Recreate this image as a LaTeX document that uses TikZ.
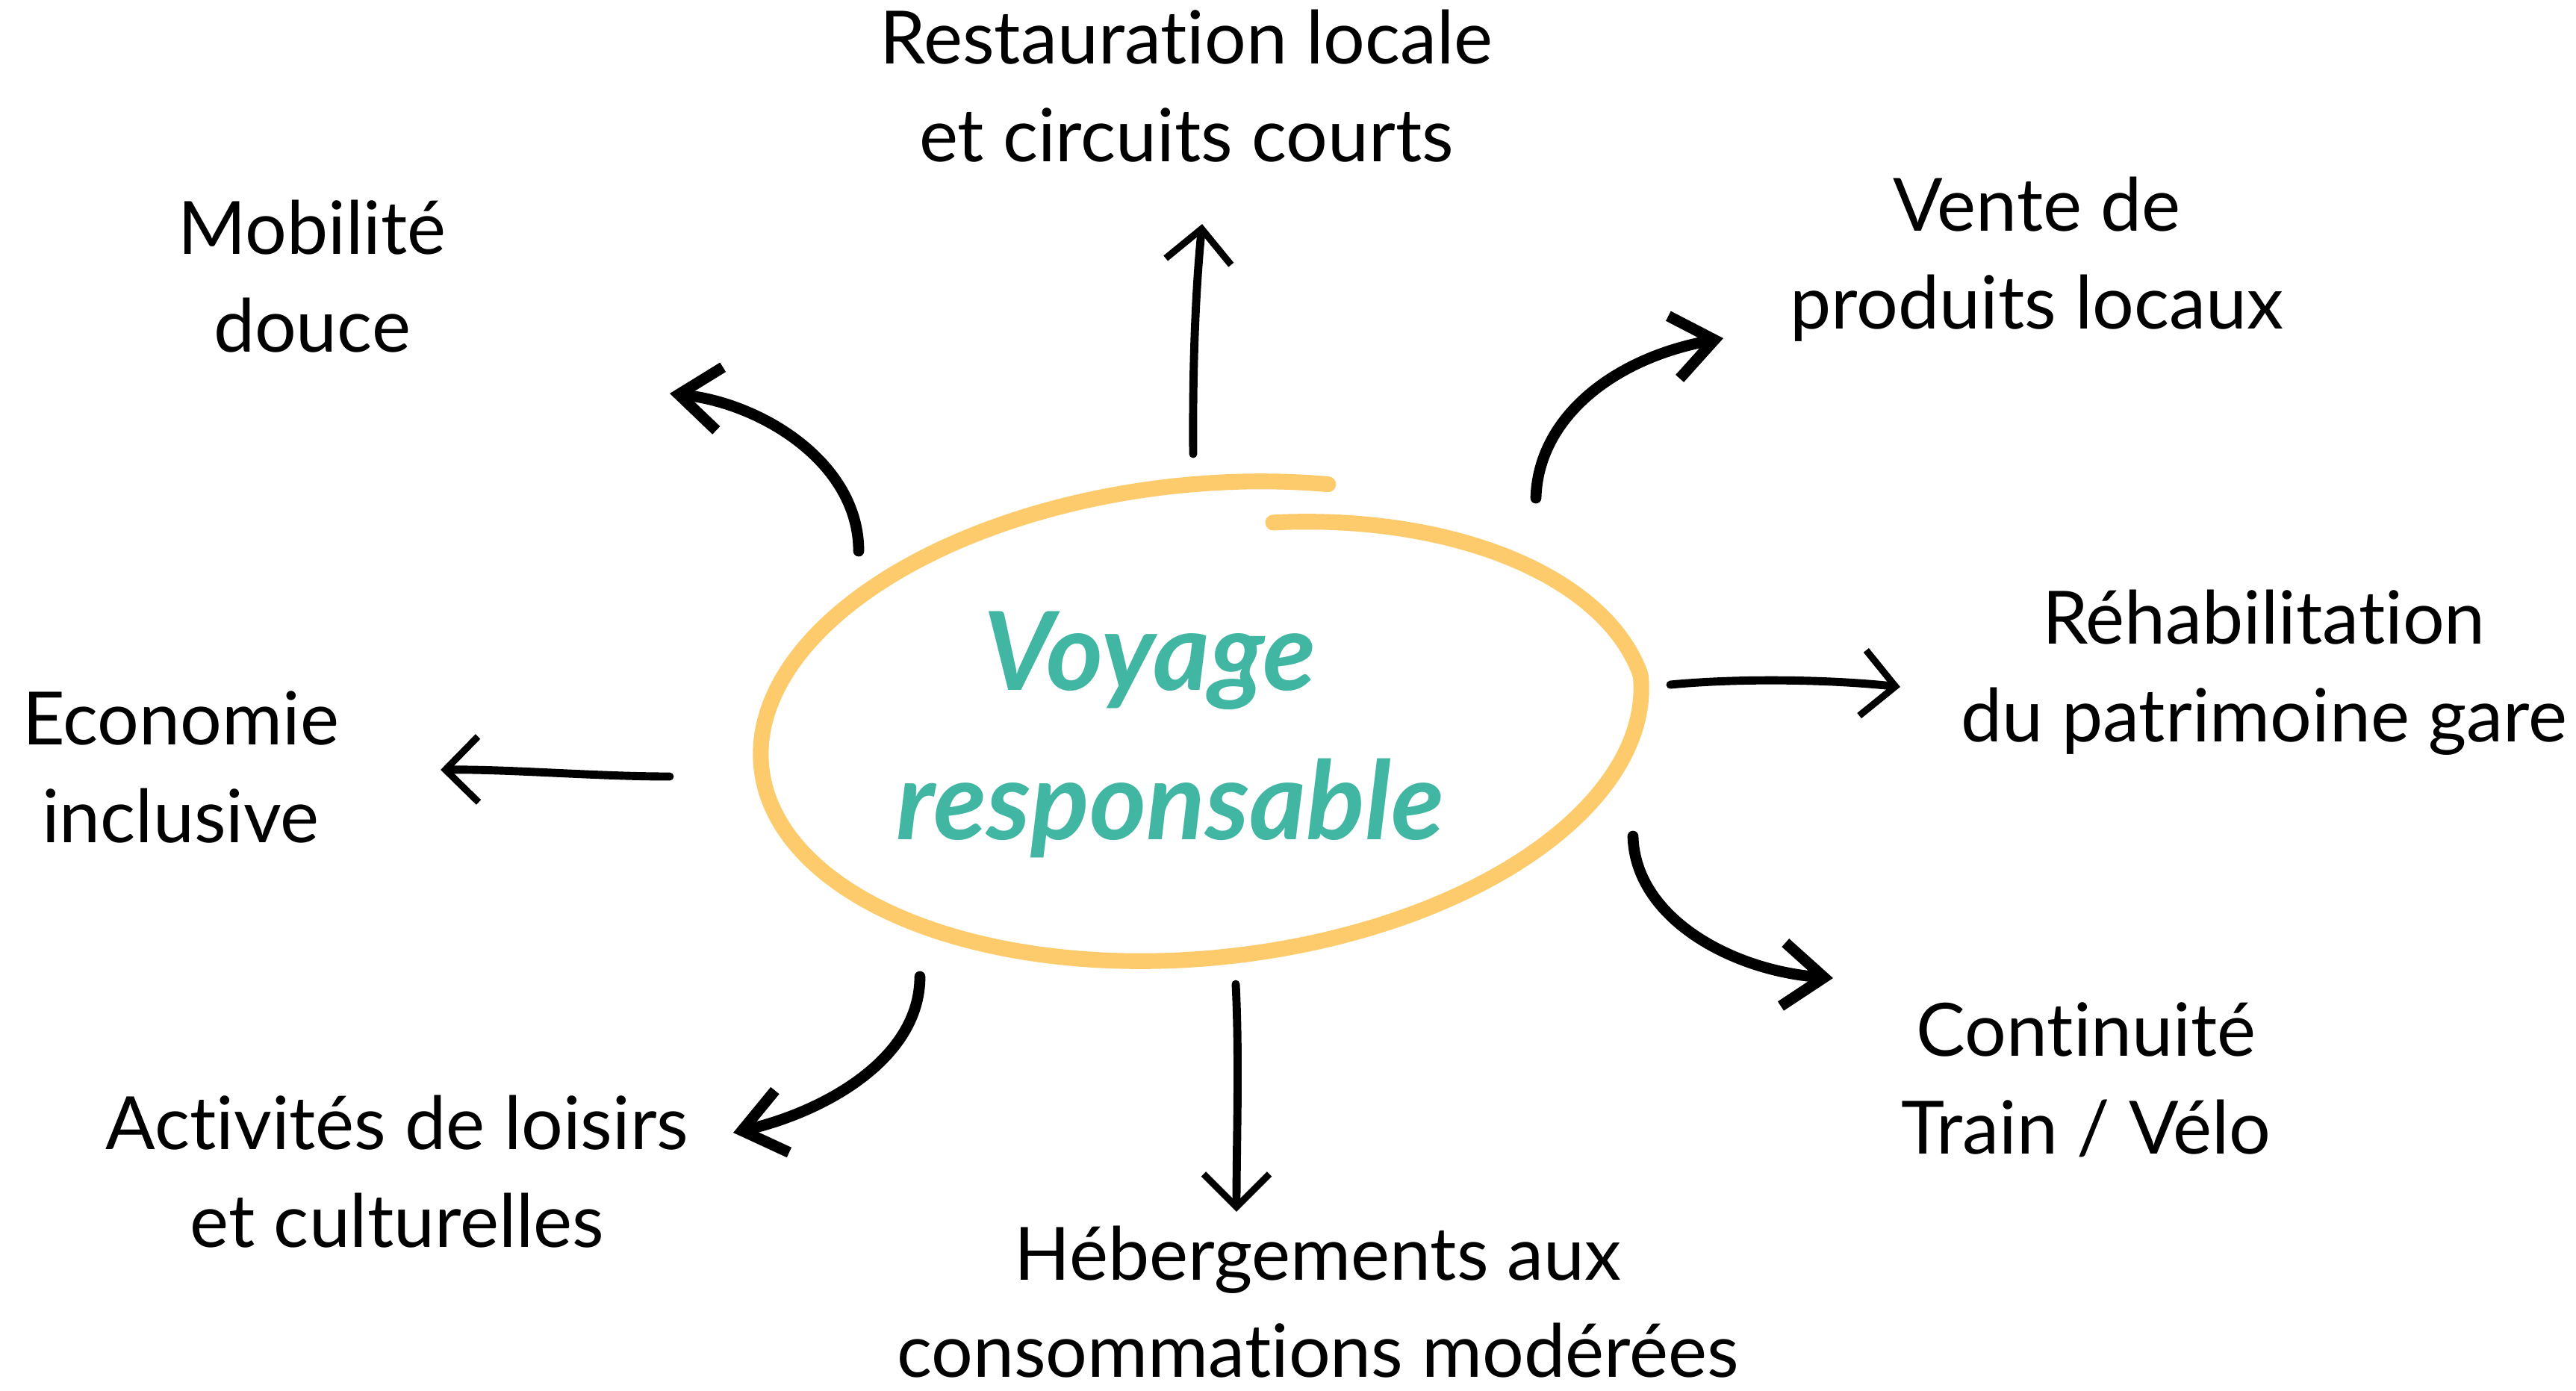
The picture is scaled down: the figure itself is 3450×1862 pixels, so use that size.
\documentclass[tikz,border=0pt]{standalone}
\usepackage{fontspec}
\setmainfont{Lato}[Ligatures={NoCommon}]
\usetikzlibrary{arrows.meta}
\definecolor{ringyellow}{HTML}{FDCB6B}
\definecolor{tealtext}{HTML}{40B6A3}
\tikzset{
  lbl/.style={font=\fontsize{28}{37}\selectfont, align=center, text=black, inner sep=0pt, anchor=center},
  ctrtext/.style={font=\fontsize{41.5}{41.5}\selectfont\bfseries\itshape, text=tealtext, inner sep=0pt, anchor=base},
  ring/.style={draw=ringyellow, line width=6pt, line cap=round, line join=round},
  bigarr/.style={draw=black, line width=4.2pt, line cap=round, -{Straight Barb[length=5.5mm, width=8.5mm, line width=4.2pt]}},
  thinarr/.style={draw=black, line width=3.1pt, line cap=round, -{Straight Barb[length=4.4mm, width=8.8mm, line width=2.6pt]}},
}
\begin{document}
\begin{tikzpicture}[x=0.01cm, y=-0.01cm]
\useasboundingbox (0,0) rectangle (3450,1862);
\fill[white] (0,0) rectangle (3450,1862);

% central ring (open spiral ellipse)
\draw[ring] plot[domain=70:435.4, samples=300, smooth, variable=\t]
  ({1608.5 + (1-0.17*max(0,\t-360)/75.4)*(588.76*cos(\t) - 33.14*sin(\t))},
   {966 - (1-0.17*max(0,\t-360)/75.4)*(61.88*cos(\t) + 315.26*sin(\t))});

% central text
\node[ctrtext] (voy) at (1540,924) {Voyage};
\node[ctrtext] (resp) at (1567,1124) {responsable};

% labels
\node[lbl] (rest) at (1589,125) {\strut Restauration locale\\\strut et circuits courts};
\node[lbl] (mob) at (418,380) {\strut Mobilité\\\strut douce};
\node[lbl] (vente) at (2728,349) {\strut Vente de\\\strut produits locaux};
\node[lbl] (rehab) at (3032,902) {\strut Réhabilitation\\\strut du patrimoine gare};
\node[lbl] (eco) at (242,1037) {\strut Economie\\\strut inclusive};
\node[lbl] (cont) at (2794,1454) {\strut Continuité\\\strut Train / Vélo};
\node[lbl] (act) at (532,1579) {\strut Activités de loisirs\\\strut et culturelles};
\node[lbl] (heb) at (1765,1734) {\strut Hébergements aux\\consommations modérées};

% arrow end points
\coordinate (sMob) at (1150,738);  \coordinate (tMob) at (897,527);
\coordinate (sRest) at (1598,608); \coordinate (tRest) at (1610,300);
\coordinate (sVen) at (2057,667);  \coordinate (tVen) at (2308,453);
\coordinate (sReh) at (2237,917);  \coordinate (tReh) at (2545,920);
\coordinate (sEco) at (897,1040);  \coordinate (tEco) at (590,1031);
\coordinate (sCon) at (2187,1120); \coordinate (tCon) at (2455,1310);
\coordinate (sAct) at (1232,1308); \coordinate (tAct) at (982,1517);
\coordinate (sHeb) at (1655,1318); \coordinate (tHeb) at (1656,1623);

% curved arrows
\draw[bigarr] (sMob) .. controls (1150,620) and (1020,540) .. (tMob);
\draw[bigarr] (sVen) .. controls (2060,560) and (2160,480) .. (tVen);
\draw[bigarr] (sCon) .. controls (2190,1230) and (2320,1300) .. (tCon);
\draw[bigarr] (sAct) .. controls (1232,1420) and (1100,1490) .. (tAct);

% straight arrows
\draw[thinarr] (sRest) .. controls (1597,480) and (1602,380) .. (tRest);
\draw[thinarr] (sReh) .. controls (2330,908) and (2450,910) .. (tReh);
\draw[thinarr] (sEco) .. controls (800,1040) and (680,1030) .. (tEco);
\draw[thinarr] (sHeb) .. controls (1660,1420) and (1656,1530) .. (tHeb);
\end{tikzpicture}
\end{document}
